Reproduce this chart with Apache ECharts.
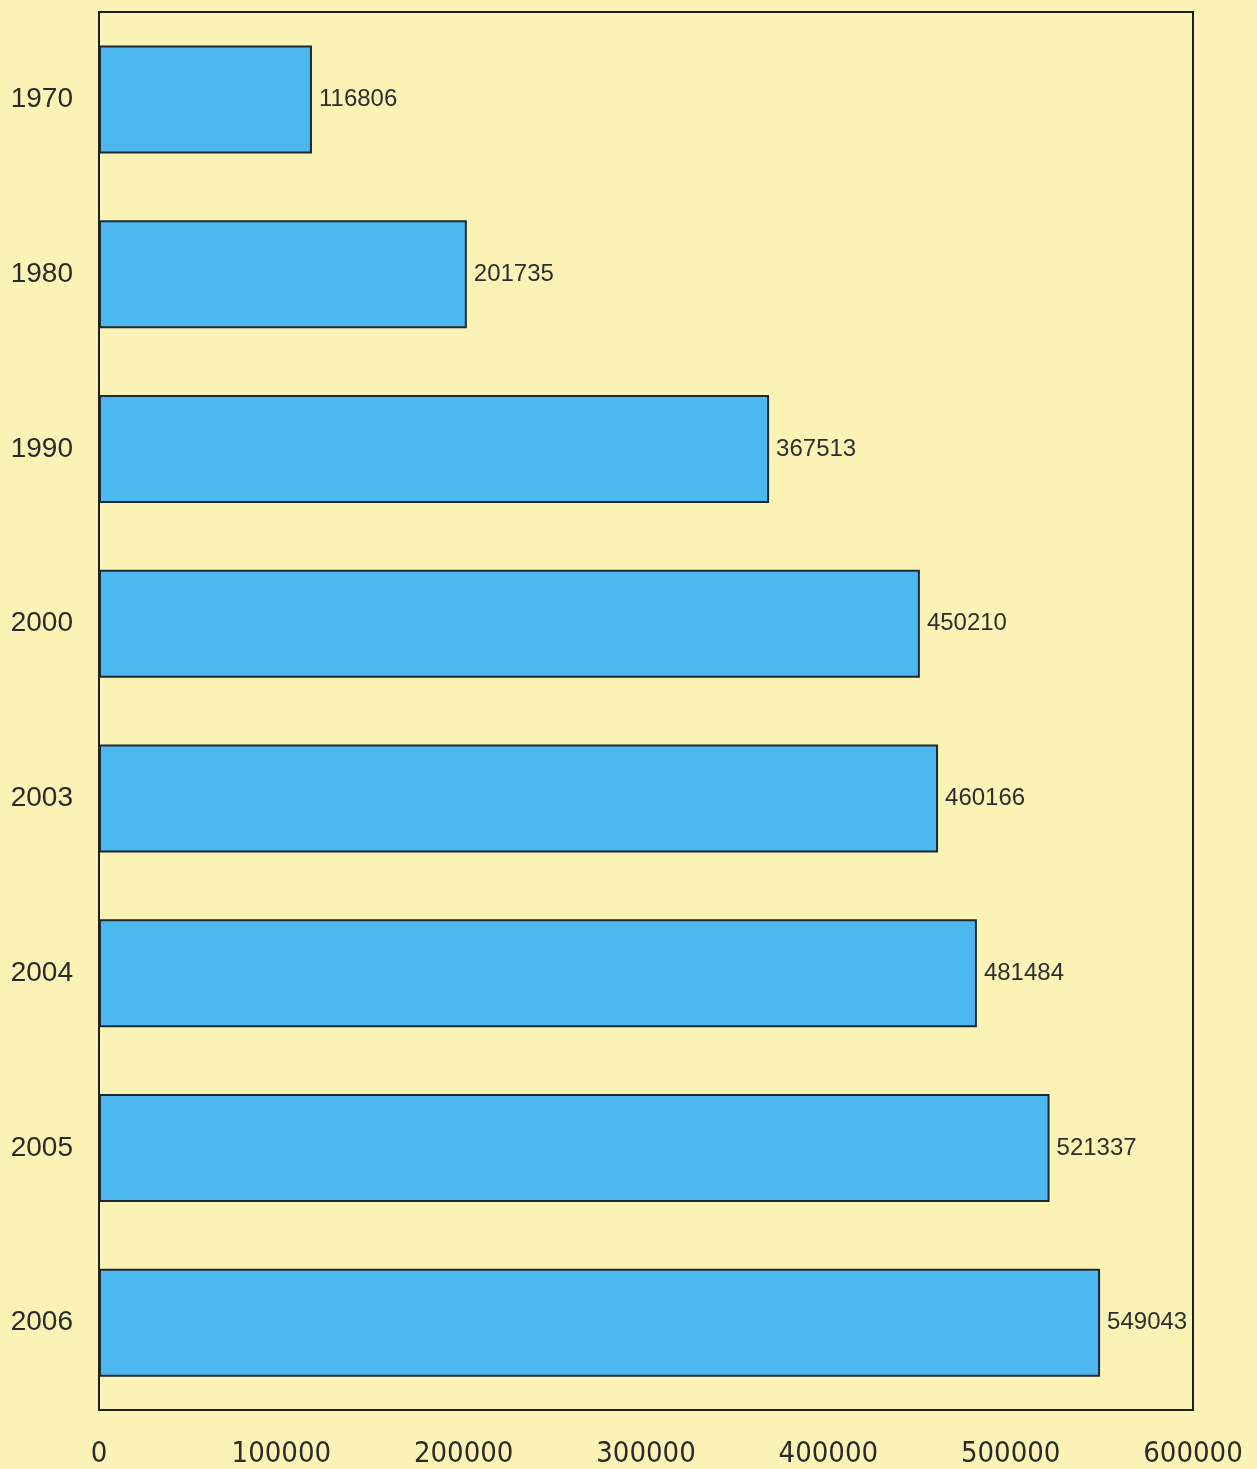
<!DOCTYPE html>
<html><head><meta charset="utf-8">
<script src="https://cdn.jsdelivr.net/npm/echarts@6/dist/echarts.min.js"></script>
<style>html,body{margin:0;padding:0;background:#FBF3B6;}#c{width:1257px;height:1469px;}</style>
</head><body><div id="c"></div>
<script>
const categories = ['1970','1980','1990','2000','2003','2004','2005','2006'];
const values = [116806, 201735, 367513, 450210, 460166, 481484, 521337, 549043];
const xTicks = [0, 100000, 200000, 300000, 400000, 500000, 600000];

const chart = echarts.init(document.getElementById('c'));
chart.setOption({
  backgroundColor: '#FBF3B6',
  animation: false,
  grid: {left: 99, right: 64, top: 12, bottom: 59, show: true, borderColor: '#1e1e1e', borderWidth: 2, backgroundColor: 'transparent'},
  xAxis: {
    type: 'value', min: xTicks[0], max: xTicks[xTicks.length-1], interval: 100000,
    axisLine: {show: true, lineStyle: {color: '#1e1e1e', width: 2}},
    axisTick: {show: false}, splitLine: {show: false},
    axisLabel: {margin: 30, fontSize: 29, color: '#2a2a2a', formatter: v => String(v), fontFamily: '"DejaVu Sans Condensed", "Liberation Sans Narrow", sans-serif'}
  },
  yAxis: {
    type: 'category', data: categories, inverse: true,
    axisLine: {show: true, lineStyle: {color: '#1e1e1e', width: 2}},
    axisTick: {show: false},
    axisLabel: {margin: 26, fontSize: 28, color: '#2a2a2a', fontFamily: '"Liberation Sans", Arial, sans-serif'}
  },
  series: [{
    type: 'bar', data: values, barWidth: 108,
    itemStyle: {color: '#4DB7F0', borderColor: '#1e2a30', borderWidth: 2},
    label: {show: true, position: 'right', distance: 7, fontSize: 24, color: '#2e2e2e', fontFamily: '"Liberation Sans", Arial, sans-serif'}
  }]
});
</script></body></html>
